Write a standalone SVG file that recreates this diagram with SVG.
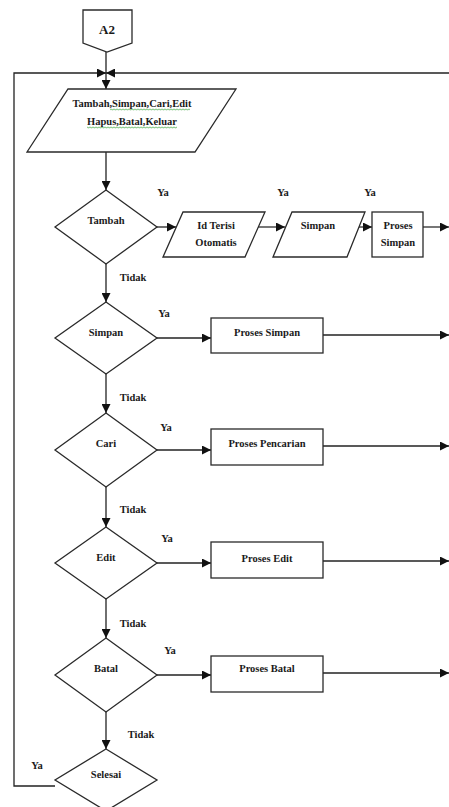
<svg xmlns="http://www.w3.org/2000/svg" width="449" height="807" viewBox="0 0 449 807">
<style>
.shape{fill:#fff;stroke:#2a2a2a;stroke-width:1.3;stroke-linejoin:miter}
.ln{fill:none;stroke:#222;stroke-width:1.3}
.ln2{fill:none;stroke:#777;stroke-width:2}
.t{font-family:"Liberation Serif","Times New Roman",serif;font-size:10.5px;font-weight:bold;fill:#1a1a1a;text-anchor:middle}
.big{font-size:13px}
</style>
<defs>
<marker id="ah" markerUnits="userSpaceOnUse" markerWidth="10" markerHeight="9" viewBox="0 0 10 10" refX="10" refY="5" orient="auto">
<path d="M0,0 L10,5 L0,10 z" fill="#111"/>
</marker>
<pattern id="squig" patternUnits="userSpaceOnUse" width="3" height="3">
<path d="M0,0.6 L1.5,2.2 L3,0.6" fill="none" stroke="#2fa02f" stroke-width="0.8"/>
</pattern>
</defs>
<rect width="449" height="807" fill="#fff"/>

<g id="connectors">
<line class="ln" x1="106" y1="52" x2="106" y2="73"/>
<polyline class="ln" points="55,786 14,786 14,73 106,73" marker-end="url(#ah)"/>
<line class="ln" x1="449" y1="73" x2="106" y2="73" marker-end="url(#ah)"/>
<line class="ln" x1="106" y1="73" x2="106" y2="89" marker-end="url(#ah)"/>
<line class="ln" x1="106" y1="152" x2="106" y2="190" marker-end="url(#ah)"/>
<line class="ln" x1="106" y1="264" x2="106" y2="302" marker-end="url(#ah)"/>
<line class="ln" x1="106" y1="374" x2="106" y2="413" marker-end="url(#ah)"/>
<line class="ln" x1="106" y1="487" x2="106" y2="527" marker-end="url(#ah)"/>
<line class="ln" x1="106" y1="599" x2="106" y2="638" marker-end="url(#ah)"/>
<line class="ln" x1="106" y1="712" x2="106" y2="749" marker-end="url(#ah)"/>
<line class="ln" x1="157" y1="227" x2="176" y2="227" marker-end="url(#ah)"/>
<line class="ln2" x1="258" y1="227" x2="285" y2="227" marker-end="url(#ah)"/>
<line class="ln2" x1="359" y1="227" x2="372" y2="227" marker-end="url(#ah)"/>
<line class="ln2" x1="423" y1="227" x2="449" y2="227" marker-end="url(#ah)"/>
<line class="ln" x1="157" y1="338" x2="211" y2="338" marker-end="url(#ah)"/>
<line class="ln" x1="323" y1="335" x2="449" y2="335" marker-end="url(#ah)"/>
<line class="ln" x1="157" y1="450" x2="211" y2="450" marker-end="url(#ah)"/>
<line class="ln" x1="323" y1="446" x2="449" y2="446" marker-end="url(#ah)"/>
<line class="ln" x1="157" y1="563" x2="211" y2="563" marker-end="url(#ah)"/>
<line class="ln" x1="323" y1="561" x2="449" y2="561" marker-end="url(#ah)"/>
<line class="ln" x1="157" y1="675" x2="211" y2="675" marker-end="url(#ah)"/>
<line class="ln" x1="323" y1="673" x2="449" y2="673" marker-end="url(#ah)"/>
<text class="t" x="163" y="196">Ya</text>
<text class="t" x="283" y="196">Ya</text>
<text class="t" x="370" y="196">Ya</text>
<text class="t" x="133" y="281">Tidak</text>
<text class="t" x="164" y="317">Ya</text>
<text class="t" x="133" y="401">Tidak</text>
<text class="t" x="166" y="431">Ya</text>
<text class="t" x="133" y="513">Tidak</text>
<text class="t" x="167" y="542">Ya</text>
<text class="t" x="133" y="627">Tidak</text>
<text class="t" x="170" y="654">Ya</text>
<text class="t" x="141" y="738">Tidak</text>
<text class="t" x="37" y="769">Ya</text>
</g>

<g id="a2">
<path class="shape" d="M83,10 L132,10 L132,43 L107,52 L83,43 Z"/>
<text class="t big" x="107" y="34">A2</text>
</g>

<g id="input">
<polygon class="shape" points="68,89 236,89 195,152 27,152"/>
<rect x="110" y="108" width="80" height="3" fill="url(#squig)"/>
<rect x="87" y="126" width="90" height="3" fill="url(#squig)"/>
<text class="t" x="132" y="107">Tambah,Simpan,Cari,Edit</text>
<text class="t" x="132" y="125">Hapus,Batal,Keluar</text>
</g>

<g id="tambah">
<polygon class="shape" points="106,190 157,227 106,264 55,227"/>
<text class="t" x="106" y="224">Tambah</text>
</g>
<g id="idterisi">
<polygon class="shape" points="183,212 265,212 245,257 163,257"/>
<text class="t" x="216" y="229">Id Terisi</text>
<text class="t" x="216" y="246">Otomatis</text>
</g>
<g id="simpan-input">
<polygon class="shape" points="292,212 365,212 347,257 273,257"/>
<text class="t" x="318" y="229">Simpan</text>
</g>
<g id="proses-simpan-1">
<rect class="shape" x="372" y="212" width="51" height="45"/>
<text class="t" x="398" y="229">Proses</text>
<text class="t" x="398" y="246">Simpan</text>
</g>

<g id="simpan">
<polygon class="shape" points="106,302 157,338 106,374 55,338"/>
<text class="t" x="106" y="336">Simpan</text>
</g>
<g id="proses-simpan">
<rect class="shape" x="211" y="318" width="112" height="35"/>
<text class="t" x="267" y="336">Proses Simpan</text>
</g>

<g id="cari">
<polygon class="shape" points="106,413 157,450 106,487 55,450"/>
<text class="t" x="106" y="447">Cari</text>
</g>
<g id="proses-pencarian">
<rect class="shape" x="211" y="429" width="112" height="36"/>
<text class="t" x="267" y="447">Proses Pencarian</text>
</g>

<g id="edit">
<polygon class="shape" points="106,527 157,563 106,599 55,563"/>
<text class="t" x="106" y="561">Edit</text>
</g>
<g id="proses-edit">
<rect class="shape" x="211" y="542" width="112" height="36"/>
<text class="t" x="267" y="562">Proses Edit</text>
</g>

<g id="batal">
<polygon class="shape" points="106,638 157,675 106,712 55,675"/>
<text class="t" x="106" y="672">Batal</text>
</g>
<g id="proses-batal">
<rect class="shape" x="211" y="656" width="112" height="36"/>
<text class="t" x="267" y="672">Proses Batal</text>
</g>

<g id="selesai">
<polygon class="shape" points="106,749 157,780 106,811 55,780"/>
<text class="t" x="106" y="778">Selesai</text>
</g>
</svg>
